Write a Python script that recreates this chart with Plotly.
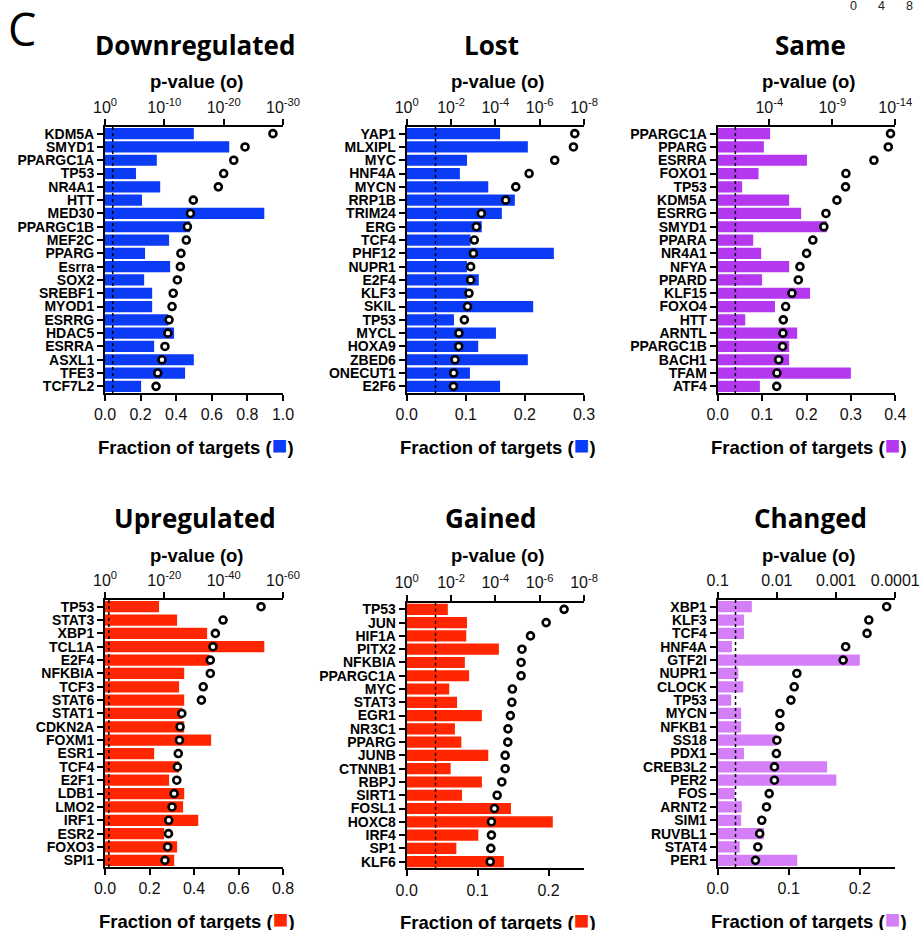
import math
import plotly.graph_objects as go

W, H = 921, 930

# ---------------- data ----------------
SIG_P = 0.05

down_genes = ["KDM5A", "SMYD1", "PPARGC1A", "TP53", "NR4A1", "HTT", "MED30", "PPARGC1B", "MEF2C", "PPARG",
              "Esrra", "SOX2", "SREBF1", "MYOD1", "ESRRG", "HDAC5", "ESRRA", "ASXL1", "TFE3", "TCF7L2"]
down_fraction = [0.499, 0.698, 0.291, 0.174, 0.310, 0.208, 0.895, 0.478, 0.360, 0.225,
                 0.366, 0.220, 0.265, 0.265, 0.356, 0.388, 0.276, 0.499, 0.450, 0.203]
down_pvalue = [5.0e-29, 2.5e-24, 2.0e-22, 1.0e-20, 7.9e-20, 1.3e-15, 4.0e-15, 1.3e-14, 2.0e-14, 1.6e-13,
               2.0e-13, 6.3e-13, 3.2e-12, 5.0e-12, 1.6e-11, 2.5e-11, 7.9e-11, 2.5e-10, 1.3e-9, 2.5e-9]

lost_genes = ["YAP1", "MLXIPL", "MYC", "HNF4A", "MYCN", "RRP1B", "TRIM24", "ERG", "TCF4", "PHF12",
              "NUPR1", "E2F4", "KLF3", "SKIL", "TP53", "MYCL", "HOXA9", "ZBED6", "ONECUT1", "E2F6"]
lost_fraction = [0.158, 0.205, 0.102, 0.090, 0.138, 0.183, 0.161, 0.127, 0.108, 0.249,
                 0.102, 0.122, 0.102, 0.214, 0.080, 0.151, 0.121, 0.205, 0.107, 0.158]
lost_pvalue = [2.6e-8, 3.0e-8, 2.1e-7, 3.0e-6, 1.2e-5, 3.4e-5, 4.3e-4, 7.2e-4, 8.9e-4, 9.8e-4,
               1.3e-3, 1.3e-3, 1.55e-3, 1.8e-3, 2.5e-3, 4.4e-3, 4.5e-3, 6.6e-3, 7.6e-3, 7.8e-3]

same_genes = ["PPARGC1A", "PPARG", "ESRRA", "FOXO1", "TP53", "KDM5A", "ESRRG", "SMYD1", "PPARA", "NR4A1",
              "NFYA", "PPARD", "KLF15", "FOXO4", "HTT", "ARNTL", "PPARGC1B", "BACH1", "TFAM", "ATF4"]
same_fraction = [0.118, 0.104, 0.201, 0.092, 0.055, 0.161, 0.188, 0.246, 0.080, 0.098,
                 0.161, 0.100, 0.208, 0.129, 0.062, 0.179, 0.161, 0.161, 0.300, 0.095]
same_pvalue = [2.4e-14, 3.6e-14, 5.0e-13, 8.3e-11, 8.9e-11, 4.3e-10, 3.2e-9, 4.7e-9, 3.5e-8, 1.1e-7,
               3.7e-7, 5.0e-7, 1.6e-6, 5.1e-6, 7.8e-6, 8.3e-6, 8.9e-6, 1.8e-5, 2.5e-5, 2.6e-5]

up_genes = ["TP53", "STAT3", "XBP1", "TCL1A", "E2F4", "NFKBIA", "TCF3", "STAT6", "STAT1", "CDKN2A",
            "FOXM1", "ESR1", "TCF4", "E2F1", "LDB1", "LMO2", "IRF1", "ESR2", "FOXO3", "SPI1"]
up_fraction = [0.243, 0.324, 0.459, 0.716, 0.468, 0.356, 0.333, 0.356, 0.347, 0.356,
               0.477, 0.221, 0.333, 0.288, 0.356, 0.351, 0.419, 0.266, 0.324, 0.311]
up_pvalue = [2.5e-53, 1.6e-40, 6.3e-38, 4.0e-37, 3.2e-36, 3.2e-36, 7.9e-34, 3.2e-33, 1.3e-26, 5.0e-26,
             7.9e-26, 2.0e-25, 4.0e-25, 6.3e-25, 5.0e-24, 2.5e-23, 3.2e-22, 4.0e-22, 7.9e-22, 6.3e-21]

gained_genes = ["TP53", "JUN", "HIF1A", "PITX2", "NFKBIA", "PPARGC1A", "MYC", "STAT3", "EGR1", "NR3C1",
                "PPARG", "JUNB", "CTNNB1", "RBPJ", "SIRT1", "FOSL1", "HOXC8", "IRF4", "SP1", "KLF6"]
gained_fraction = [0.058, 0.085, 0.084, 0.130, 0.082, 0.088, 0.060, 0.071, 0.106, 0.068,
                   0.077, 0.115, 0.062, 0.106, 0.078, 0.147, 0.206, 0.101, 0.070, 0.137]
gained_pvalue = [7.9e-8, 5.1e-7, 2.6e-6, 6.3e-6, 6.9e-6, 6.9e-6, 1.7e-5, 1.8e-5, 2.1e-5, 2.7e-5,
                 2.75e-5, 3.6e-5, 3.6e-5, 5.1e-5, 8.3e-5, 1.1e-4, 1.5e-4, 1.5e-4, 1.6e-4, 1.7e-4]

changed_genes = ["XBP1", "KLF3", "TCF4", "HNF4A", "GTF2I", "NUPR1", "CLOCK", "TP53", "MYCN", "NFKB1",
                 "SS18", "PDX1", "CREB3L2", "PER2", "FOS", "ARNT2", "SIM1", "RUVBL1", "STAT4", "PER1"]
changed_fraction = [0.048, 0.037, 0.037, 0.020, 0.200, 0.029, 0.036, 0.019, 0.033, 0.033,
                    0.083, 0.037, 0.154, 0.167, 0.024, 0.034, 0.033, 0.065, 0.031, 0.112]
changed_pvalue = [1.4e-4, 2.8e-4, 3.0e-4, 6.9e-4, 7.6e-4, 4.6e-3, 5.1e-3, 5.8e-3, 8.9e-3, 8.9e-3,
                  1.0e-2, 1.02e-2, 1.1e-2, 1.1e-2, 1.35e-2, 1.5e-2, 1.8e-2, 1.95e-2, 2.1e-2, 2.3e-2]

pow_ticks_30 = [1, 1e-10, 1e-20, 1e-30]
pow_ticks_8 = [1, 1e-2, 1e-4, 1e-6, 1e-8]
pow_ticks_14 = [1e-4, 1e-9, 1e-14]
pow_ticks_60 = [1, 1e-20, 1e-40, 1e-60]
dec_ticks = [0.1, 0.01, 0.001, 0.0001]
dec_labels = ["0.1", "0.01", "0.001", "0.0001"]


def pow_text(vals):
    return ["10<sup>%d</sup>" % int(round(math.log10(v))) for v in vals]


# ---------------- styles ----------------
BLUE = "#0B3BF5"
RED = "#FF2600"
PURPLE = "#B438EF"
LILAC = "#D47EF7"

panels = [
    dict(title="Downregulated", genes=down_genes, frac=down_fraction, p=down_pvalue, color=BLUE,
         box=(105, 283, 127, 393), frange=[0, 1.0], fticks=[0, 0.2, 0.4, 0.6, 0.8, 1.0],
         prange=[0, -30], pticks=pow_ticks_30, ptext=pow_text(pow_ticks_30),
         title_xy=(195, 45), pv_xy=(197, 82), fr_xy=(196, 445)),
    dict(title="Lost", genes=lost_genes, frac=lost_fraction, p=lost_pvalue, color=BLUE,
         box=(406.7, 584, 127, 393), frange=[0, 0.3], fticks=[0, 0.1, 0.2, 0.3],
         prange=[0, -8], pticks=pow_ticks_8, ptext=pow_text(pow_ticks_8),
         title_xy=(491.5, 45), pv_xy=(498, 82), fr_xy=(497.5, 445)),
    dict(title="Same", genes=same_genes, frac=same_fraction, p=same_pvalue, color=PURPLE,
         box=(717.7, 895.3, 127, 393), frange=[0, 0.4], fticks=[0, 0.1, 0.2, 0.3, 0.4],
         prange=[0.1, -14], pticks=pow_ticks_14, ptext=pow_text(pow_ticks_14),
         title_xy=(810, 45), pv_xy=(809, 82), fr_xy=(808.7, 445)),
    dict(title="Upregulated", genes=up_genes, frac=up_fraction, p=up_pvalue, color=RED,
         box=(105, 283, 600, 867), frange=[0, 0.8], fticks=[0, 0.2, 0.4, 0.6, 0.8],
         prange=[0, -60], pticks=pow_ticks_60, ptext=pow_text(pow_ticks_60),
         title_xy=(194.7, 518), pv_xy=(197, 555), fr_xy=(196.7, 919.3)),
    dict(title="Gained", genes=gained_genes, frac=gained_fraction, p=gained_pvalue, color=RED,
         box=(406.7, 584, 602.7, 868.3), frange=[0, 0.25], fticks=[0, 0.1, 0.2],
         prange=[0, -8], pticks=pow_ticks_8, ptext=pow_text(pow_ticks_8),
         title_xy=(490, 518), pv_xy=(497.7, 555), fr_xy=(497.8, 920)),
    dict(title="Changed", genes=changed_genes, frac=changed_fraction, p=changed_pvalue, color=LILAC,
         box=(717.7, 895.3, 600, 867), frange=[0, 0.25], fticks=[0, 0.1, 0.2],
         prange=[-1, -4], pticks=dec_ticks, ptext=dec_labels,
         title_xy=(810, 518), pv_xy=(809, 555), fr_xy=(808.7, 919.3)),
]

AX_FONT = "Liberation Sans, Arial, sans-serif"
TITLE_FONT = "Open Sans, sans-serif"

fig = go.Figure()
layout = dict(width=W, height=H, margin=dict(l=0, r=0, t=0, b=0, pad=0), autosize=False,
              paper_bgcolor="white", plot_bgcolor="white", showlegend=False)
annotations = []

common = dict(showline=True, linecolor="black", linewidth=2, ticks="outside", ticklen=6,
              tickwidth=2, tickcolor="black", showgrid=False, zeroline=False, fixedrange=True,
              automargin=False)

for i, P in enumerate(panels):
    xb, xt, ya = "x%d" % (2 * i + 1), "x%d" % (2 * i + 2), "y%d" % (i + 1)
    xbk = "xaxis" if i == 0 else "xaxis%d" % (2 * i + 1)
    xtk = "xaxis%d" % (2 * i + 2)
    yk = "yaxis" if i == 0 else "yaxis%d" % (i + 1)
    x0, x1, y0, y1 = P["box"]
    n = len(P["genes"])
    idx = list(range(n))

    fig.add_trace(go.Bar(x=P["frac"], y=idx, orientation="h", width=0.84,
                         marker=dict(color=P["color"], line=dict(width=0)),
                         xaxis=xb, yaxis=ya, hoverinfo="skip"))
    fig.add_trace(go.Scatter(x=[SIG_P, SIG_P], y=[-0.5, n - 0.5], mode="lines",
                             line=dict(color="black", width=1.5, dash="dot"),
                             xaxis=xt, yaxis=ya, hoverinfo="skip"))
    fig.add_trace(go.Scatter(x=P["p"], y=idx, mode="markers", cliponaxis=False,
                             marker=dict(symbol="circle", size=7, color="white",
                                         line=dict(color="black", width=2.6)),
                             xaxis=xt, yaxis=ya))

    layout[xbk] = dict(common, domain=[x0 / W, x1 / W], anchor=ya, side="bottom",
                       range=P["frange"], tickvals=P["fticks"], tickformat=".1f",
                       tickfont=dict(family=AX_FONT, size=16, color="#111"))
    layout[xtk] = dict(common, overlaying=xb, anchor=ya, side="top", type="log",
                       range=P["prange"], tickvals=P["pticks"], ticktext=P["ptext"],
                       tickfont=dict(family=AX_FONT, size=16, color="#111"))
    layout[yk] = dict(common, domain=[1 - y1 / H, 1 - y0 / H], anchor=xb,
                      range=[n - 0.5, -0.5], tickvals=idx, ticktext=P["genes"],
                      tickfont=dict(family=AX_FONT, size=14, color="black", weight="bold"))

    tx, ty = P["title_xy"]
    annotations.append(dict(text=P["title"], x=tx / W, y=1 - ty / H, xref="paper", yref="paper",
                            xanchor="center", yanchor="middle", showarrow=False,
                            font=dict(family=TITLE_FONT, size=26, color="black", weight="bold")))
    px_, py_ = P["pv_xy"]
    annotations.append(dict(text="p-value (o)", x=px_ / W, y=1 - py_ / H, xref="paper", yref="paper",
                            xanchor="center", yanchor="middle", showarrow=False,
                            font=dict(family=AX_FONT, size=18.5, color="black", weight="bold")))
    fx, fy = P["fr_xy"]
    annotations.append(dict(text="Fraction of targets (<span style='color:%s;font-size:26px'>■</span>)" % P["color"],
                            x=fx / W, y=1 - fy / H, xref="paper", yref="paper",
                            xanchor="center", yanchor="middle", showarrow=False,
                            font=dict(family=AX_FONT, size=18.5, color="black", weight="bold")))

annotations.append(dict(text="C", x=22 / W, y=1 - 29 / H, xref="paper", yref="paper",
                        xanchor="center", yanchor="middle", showarrow=False,
                        font=dict(family=TITLE_FONT, size=45, color="black")))
for lab, lx in zip(["0", "4", "8"], [853, 881, 909]):
    annotations.append(dict(text=lab, x=lx / W, y=1 - 6 / H, xref="paper", yref="paper",
                            xanchor="center", yanchor="middle", showarrow=False,
                            font=dict(family=AX_FONT, size=12.5, color="#222")))

layout["annotations"] = annotations
fig.update_layout(**layout)
fig.write_html("out.html", config={"displayModeBar": False},
               post_script="document.body.style.margin='0';document.body.style.padding='0';"
                           "document.body.style.overflow='hidden';")
